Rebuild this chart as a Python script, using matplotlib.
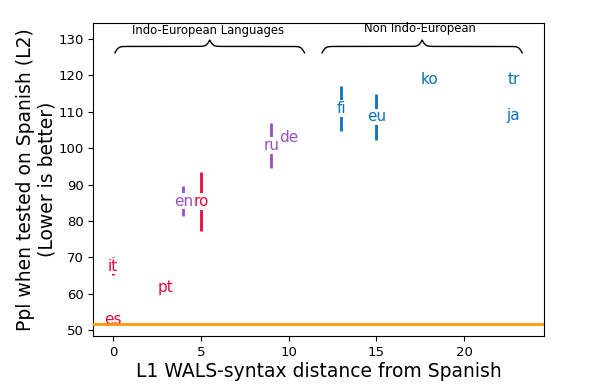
"""
L1 WALS-syntax distance vs. perplexity on Spanish (L2)
"""

import numpy as np
import matplotlib
matplotlib.use('Agg')
from matplotlib import pyplot as plt

# languages and their values
langs = ['es', 'it', 'pt', 'en', 'ro', 'ru', 'de', 'fi', 'eu', 'ko', 'tr', 'ja']
dist = [0, 0, 3, 4, 5, 9, 10, 13, 15, 18, 22.8, 22.8]
ppl = [53.0, 67.6, 61.8, 85.5, 85.4, 100.8, 102.9, 110.9, 108.6, 118.8, 118.8, 108.9]
err = [0, 2.4, 0, 4.2, 8.0, 6.2, 0, 6.2, 6.3, 0, 0, 0]
family = ['romance', 'romance', 'romance', 'ie', 'romance', 'ie', 'ie',
          'non_ie', 'non_ie', 'non_ie', 'non_ie', 'non_ie']
baseline = 51.8

colors = {'romance': '#E60A3C', 'ie': '#9B4FC0', 'non_ie': '#0A72B8'}


def draw_brace(ax, xmin, xmax, y, h, beta=10.0):
    n = 301
    xs = np.linspace(xmin, xmax, n)
    half = xs[:n // 2 + 1]
    yh = 1 / (1 + np.exp(-beta * (half - half[0]))) + 1 / (1 + np.exp(-beta * (half - half[-1])))
    yf = np.concatenate((yh, yh[-2::-1]))
    ys = y + (yf - 0.5) * h
    ax.plot(xs, ys, color='black', lw=1, clip_on=False)


def generated_report():
    fig = plt.figure(figsize=(6.1, 3.89), dpi=100)
    ax = fig.add_axes([0.153, 0.136, 0.739, 0.805])

    ax.axhline(baseline, color='#FF9900', lw=2, zorder=4)

    for l, x, y, e, f in zip(langs, dist, ppl, err, family):
        c = colors[f]
        if e > 0:
            ax.errorbar(x, y, yerr=e, fmt='none', ecolor=c, elinewidth=2, capsize=0, zorder=2)
        ax.text(x, y, l, color=c, fontsize=11, ha='center', va='center', zorder=3,
                bbox=dict(facecolor='white', edgecolor='none', pad=0.5))

    ax.set_xlim(-1.13, 24.55)
    ax.set_ylim(48.4, 134.4)
    ax.set_xticks([0, 5, 10, 15, 20])
    ax.set_yticks(range(50, 131, 10))
    ax.tick_params(labelsize=9.5)

    draw_brace(ax, 0.1, 10.9, 126.2, 3.5)
    draw_brace(ax, 11.9, 23.3, 126.2, 3.5)
    ax.text(5.4, 132.2, 'Indo-European Languages', fontsize=8.4, ha='center', va='center')
    ax.text(17.5, 133.0, 'Non Indo-European', fontsize=8.4, ha='center', va='center')

    ax.set_xlabel('L1 WALS-syntax distance from Spanish', fontsize=13.5, labelpad=2)
    ax.set_ylabel('Ppl when tested on Spanish (L2)\n(Lower is better)', fontsize=13.5, labelpad=1)

    fig.savefig('out.png', dpi=100)


if __name__ == '__main__':
    generated_report()
